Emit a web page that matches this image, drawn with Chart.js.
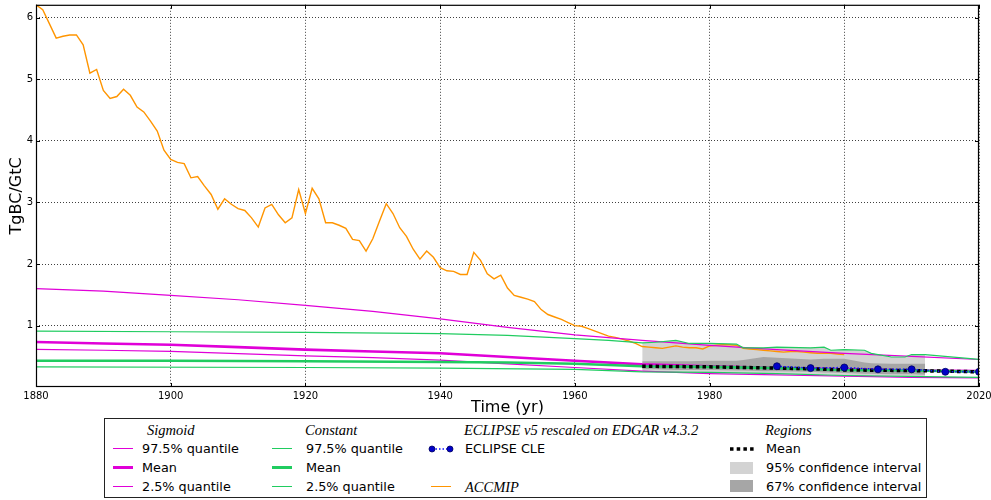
<!DOCTYPE html>
<html>
<head>
<meta charset="utf-8">
<script src="https://cdn.jsdelivr.net/npm/chart.js@4/dist/chart.umd.min.js"></script>
<style>
  html, body { margin: 0; padding: 0; background: #fff; }
  body { width: 991px; height: 500px; position: relative; overflow: hidden; font-family: "DejaVu Sans", sans-serif; }
  #wrap { position: absolute; left: 0; top: 0; width: 991px; height: 418px; }
  #legend { position: absolute; left: 104px; top: 418px; width: 823px; height: 80px; box-sizing: border-box; border: 1px solid #222; background: #fff; }
  #legend .t { position: absolute; font-size: 12.8px; line-height: 16px; color: #000; white-space: nowrap; }
  #legend .h { position: absolute; font-family: "Liberation Serif", serif; font-style: italic; font-size: 14.5px; line-height: 16px; color: #000; white-space: nowrap; }
  #legend .ln { position: absolute; width: 20px; height: 0; }
  #legend .patch { position: absolute; width: 23px; height: 12px; }
  #legend svg { position: absolute; }
</style>
</head>
<body>
<div id="wrap"><canvas id="chart"></canvas></div>

<div id="legend">
  <div class="h" style="left:42px; top:3px">Sigmoid</div>
  <div class="h" style="left:200px; top:3px">Constant</div>
  <div class="h" style="left:359px; top:3px">ECLIPSE v5 rescaled on EDGAR v4.3.2</div>
  <div class="h" style="left:660px; top:3px">Regions</div>

  <div class="ln" style="left:8px; top:29px; border-top:1.5px solid #e000d8"></div>
  <div class="t" style="left:37px; top:22px">97.5% quantile</div>
  <div class="ln" style="left:8px; top:47px; border-top:3px solid #e000d8"></div>
  <div class="t" style="left:37px; top:41px">Mean</div>
  <div class="ln" style="left:8px; top:67px; border-top:1.5px solid #e000d8"></div>
  <div class="t" style="left:37px; top:60px">2.5% quantile</div>

  <div class="ln" style="left:167px; top:29px; border-top:1.5px solid #20cc60"></div>
  <div class="t" style="left:201px; top:22px">97.5% quantile</div>
  <div class="ln" style="left:167px; top:47px; border-top:3px solid #20cc60"></div>
  <div class="t" style="left:201px; top:41px">Mean</div>
  <div class="ln" style="left:167px; top:67px; border-top:1.5px solid #20cc60"></div>
  <div class="t" style="left:201px; top:60px">2.5% quantile</div>

  <svg style="left:322px; top:24px" width="28" height="12">
    <line x1="5" y1="6" x2="23" y2="6" stroke="#1010ff" stroke-width="1.5" stroke-dasharray="1.5,2"/>
    <circle cx="5" cy="6" r="3" fill="#0000c8" stroke="#000060" stroke-width="0.8"/>
    <circle cx="23" cy="6" r="3" fill="#0000c8" stroke="#000060" stroke-width="0.8"/>
  </svg>
  <div class="t" style="left:360px; top:22px">ECLIPSE CLE</div>
  <div class="ln" style="left:326px; top:67px; border-top:1.5px solid #ff9500"></div>
  <div class="h" style="left:360px; top:60px">ACCMIP</div>

  <svg style="left:625px; top:24px" width="24" height="12">
    <line x1="0" y1="6" x2="24" y2="6" stroke="#000" stroke-width="3.5" stroke-dasharray="3.5,3.2"/>
  </svg>
  <div class="t" style="left:661px; top:22px">Mean</div>
  <div class="patch" style="left:625px; top:43px; background:#d3d3d3"></div>
  <div class="t" style="left:661px; top:41px">95% confidence interval</div>
  <div class="patch" style="left:625px; top:61px; background:#a6a6a6"></div>
  <div class="t" style="left:661px; top:60px">67% confidence interval</div>
</div>

<script>
// ---- data ----
const xTicks = [1880, 1900, 1920, 1940, 1960, 1980, 2000, 2020];
const yTicks = [1, 2, 3, 4, 5, 6];

const accmipYears = [];
for (let yr = 1880; yr <= 2000; yr++) accmipYears.push(yr);
const accmip = [
  6.21, 6.13, 5.90, 5.67, 5.70, 5.72, 5.72, 5.56, 5.10, 5.16,
  4.82, 4.69, 4.72, 4.84, 4.74, 4.55, 4.47, 4.32, 4.16, 3.85,
  3.70, 3.65, 3.63, 3.40, 3.42, 3.27, 3.13, 2.89, 3.06, 2.97,
  2.90, 2.87, 2.75, 2.60, 2.91, 2.97, 2.80, 2.67, 2.75, 3.21,
  2.82, 3.23, 3.06, 2.67, 2.67, 2.63, 2.58, 2.40, 2.38, 2.21,
  2.41, 2.70, 2.98, 2.82, 2.59, 2.45, 2.24, 2.08, 2.21, 2.11,
  1.94, 1.89, 1.88, 1.83, 1.83, 2.19, 2.06, 1.84, 1.76, 1.82,
  1.61, 1.49, 1.46, 1.43, 1.39, 1.26, 1.18, 1.14, 1.10, 1.05,
  1.00, 0.99, 0.95, 0.91, 0.87, 0.83, 0.81, 0.78, 0.75, 0.71,
  0.66, 0.65, 0.64, 0.63, 0.65, 0.67, 0.65, 0.64, 0.64, 0.62,
  0.67, 0.68, 0.69, 0.69, 0.68, 0.63, 0.62, 0.61, 0.60, 0.59,
  0.58, 0.57, 0.58, 0.58, 0.57, 0.56, 0.55, 0.55, 0.55, 0.54,
  0.53
];

const sigYears = [1880, 1890, 1900, 1910, 1920, 1930, 1940, 1950, 1960, 1970, 1980, 1990, 2000, 2010, 2020];
const sigHigh = [1.60, 1.56, 1.49, 1.42, 1.33, 1.23, 1.11, 0.97, 0.85, 0.76, 0.68, 0.61, 0.55, 0.50, 0.45];
const sigMean = [0.735, 0.71, 0.69, 0.65, 0.61, 0.58, 0.55, 0.49, 0.43, 0.37, 0.34, 0.31, 0.29, 0.27, 0.26];
const sigLow  = [0.615, 0.60, 0.58, 0.545, 0.51, 0.48, 0.44, 0.38, 0.32, 0.26, 0.22, 0.20, 0.18, 0.16, 0.15];

const constHighYears = [1880, 1900, 1920, 1940, 1950, 1960, 1965, 1970, 1972, 1975, 1977, 1980, 1984, 1985, 1988, 1990, 1995, 1997, 1998, 2000, 2003, 2004, 2007, 2009, 2010, 2012, 2020];
const constHigh = [0.91, 0.90, 0.89, 0.87, 0.84, 0.79, 0.76, 0.72, 0.73, 0.76, 0.71, 0.71, 0.70, 0.64, 0.64, 0.65, 0.64, 0.65, 0.60, 0.61, 0.60, 0.55, 0.49, 0.49, 0.53, 0.53, 0.45];
const constMeanYears = [1880, 1900, 1920, 1940, 1950, 1960, 1965, 1970, 1980, 1990, 2000, 2010, 2020];
const constMean = [0.43, 0.43, 0.42, 0.41, 0.40, 0.38, 0.36, 0.34, 0.33, 0.31, 0.28, 0.27, 0.25];
const constLowYears = [1880, 1920, 1940, 1960, 1970, 1980, 1990, 2000, 2012, 2020];
const constLow = [0.33, 0.32, 0.31, 0.29, 0.25, 0.24, 0.22, 0.19, 0.17, 0.16];

const bandYears = [1970, 1972, 1975, 1977, 1980, 1984, 1985, 1988, 1990, 1995, 1997, 1998, 2000, 2003, 2004, 2007, 2009, 2010, 2012];
const band95Hi = [0.72, 0.73, 0.76, 0.71, 0.71, 0.70, 0.64, 0.64, 0.65, 0.64, 0.65, 0.60, 0.61, 0.60, 0.55, 0.49, 0.49, 0.53, 0.53];
const band95Lo = [0.25, 0.25, 0.24, 0.24, 0.24, 0.23, 0.23, 0.22, 0.22, 0.21, 0.20, 0.20, 0.19, 0.18, 0.18, 0.17, 0.17, 0.17, 0.16];
const band67Hi = [0.42, 0.42, 0.42, 0.42, 0.43, 0.43, 0.44, 0.49, 0.48, 0.45, 0.46, 0.46, 0.46, 0.40, 0.39, 0.38, 0.38, 0.38, 0.38];
const band67Lo = [0.29, 0.29, 0.28, 0.28, 0.28, 0.27, 0.27, 0.26, 0.26, 0.25, 0.24, 0.24, 0.23, 0.22, 0.22, 0.21, 0.21, 0.21, 0.20];

const regionYears = [1970, 1975, 1980, 1985, 1990, 1995, 2000, 2005, 2010, 2015, 2020];
const regionMean = [0.34, 0.335, 0.33, 0.32, 0.31, 0.30, 0.28, 0.275, 0.27, 0.26, 0.25];

const eclipseYears = [1990, 1995, 2000, 2005, 2010, 2015, 2020];
const eclipse = [0.34, 0.31, 0.32, 0.29, 0.29, 0.25, 0.25];

const MAGENTA = '#e000d8';
const GREEN = '#20cc60';
const ORANGE = '#ff9500';

function pts(xs, ys) { return xs.map((x, i) => ({ x: x, y: ys[i] })); }

function line(data, color, width, order, extra) {
  return Object.assign({
    data: data, borderColor: color, borderWidth: width, pointRadius: 0,
    fill: false, tension: 0, order: order
  }, extra || {});
}

// frame + inward tick marks like the matplotlib classic style
const framePlugin = {
  id: 'frame',
  afterDatasetsDraw(chart) {
    const { ctx, chartArea: a, scales: { x, y } } = chart;
    ctx.save();
    ctx.strokeStyle = '#000';
    ctx.lineWidth = 1;
    ctx.beginPath();
    xTicks.forEach(v => {
      const px = Math.round(x.getPixelForValue(v)) + 0.5;
      ctx.moveTo(px, a.bottom); ctx.lineTo(px, a.bottom - 4);
      ctx.moveTo(px, a.top); ctx.lineTo(px, a.top + 4);
    });
    yTicks.forEach(v => {
      const py = Math.round(y.getPixelForValue(v)) + 0.5;
      ctx.moveTo(a.left, py); ctx.lineTo(a.left + 4, py);
      ctx.moveTo(a.right, py); ctx.lineTo(a.right - 4, py);
    });
    ctx.stroke();
    ctx.lineWidth = 1.2;
    ctx.strokeRect(a.left + 0.5, a.top + 0.5, a.right - a.left - 1, a.bottom - a.top - 1);
    ctx.restore();
  }
};

new Chart(document.getElementById('chart'), {
  type: 'line',
  data: {
    datasets: [
      // regions 95% band
      line(pts(bandYears, band95Hi), 'rgba(0,0,0,0)', 0, 30, { fill: '+1', backgroundColor: '#d3d3d3' }),
      line(pts(bandYears, band95Lo), 'rgba(0,0,0,0)', 0, 29),
      // regions 67% band
      line(pts(bandYears, band67Hi), 'rgba(0,0,0,0)', 0, 28, { fill: '+1', backgroundColor: '#a6a6a6' }),
      line(pts(bandYears, band67Lo), 'rgba(0,0,0,0)', 0, 27),
      // ACCMIP
      line(pts(accmipYears, accmip), ORANGE, 1.4, 10),
      // sigmoid
      line(pts(sigYears, sigHigh), MAGENTA, 1.2, 8),
      line(pts(sigYears, sigMean), MAGENTA, 2.6, 8),
      line(pts(sigYears, sigLow), MAGENTA, 1.2, 8),
      // constant
      line(pts(constHighYears, constHigh), GREEN, 1.2, 7),
      line(pts(constMeanYears, constMean), GREEN, 2.6, 7),
      line(pts(constLowYears, constLow), GREEN, 1.2, 7),
      // regions mean
      line(pts(regionYears, regionMean), '#000', 3.5, 3, { borderDash: [3.5, 3.2], borderCapStyle: 'butt' }),
      // ECLIPSE CLE
      line(pts(eclipseYears, eclipse), '#1010ff', 1.5, 1, {
        borderDash: [1.5, 2], pointRadius: 3.5, pointBackgroundColor: '#0000c8',
        pointBorderColor: '#000060', pointBorderWidth: 0.8
      })
    ]
  },
  options: {
    responsive: true,
    maintainAspectRatio: false,
    animation: false,
    devicePixelRatio: 1,
    layout: { padding: { left: 0, right: 12, top: 4, bottom: 0 } },
    plugins: { legend: { display: false }, tooltip: { enabled: false } },
    scales: {
      x: {
        type: 'linear',
        min: 1880, max: 2020,
        afterBuildTicks: s => { s.ticks = xTicks.map(v => ({ value: v })); },
        afterFit: s => { s.height = 31; s.paddingLeft = 0; s.paddingRight = 0; },
        ticks: { color: '#000', font: { family: 'DejaVu Sans', size: 10 }, padding: 3, maxRotation: 0, callback: v => String(v) },
        grid: { color: 'rgba(0,0,0,0.75)', lineWidth: 1, drawTicks: false },
        border: { display: false, dash: [1, 2] },
        title: { display: true, text: 'Time (yr)', color: '#000', font: { family: 'DejaVu Sans', size: 16 }, padding: { top: 0, bottom: 1 } }
      },
      y: {
        type: 'linear',
        min: 0.003, max: 6.21,
        afterBuildTicks: s => { s.ticks = yTicks.map(v => ({ value: v })); },
        afterFit: s => { s.width = 36; s.paddingTop = 0; s.paddingBottom = 0; },
        ticks: { color: '#000', font: { family: 'DejaVu Sans', size: 10 }, padding: 3, callback: v => String(v) },
        grid: { color: 'rgba(0,0,0,0.75)', lineWidth: 1, drawTicks: false },
        border: { display: false, dash: [1, 2] },
        title: { display: true, text: 'TgBC/GtC', color: '#000', font: { family: 'DejaVu Sans', size: 16 }, padding: { top: 7, bottom: 0 } }
      }
    }
  },
  plugins: [framePlugin]
});
</script>
</body>
</html>
